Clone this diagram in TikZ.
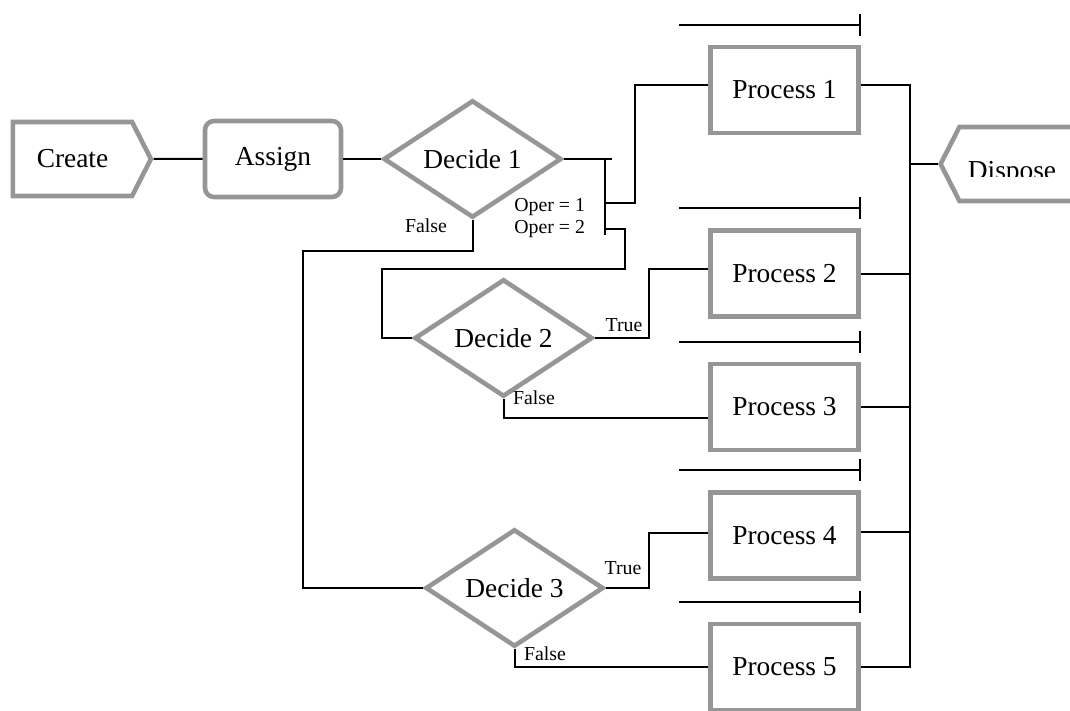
\documentclass[tikz,border=0pt]{standalone}
\usepackage{fontspec}
\setmainfont{Liberation Serif}
\usepackage{tikz}
\usetikzlibrary{shapes,arrows.meta}
\usetikzlibrary{shapes.geometric,shapes.symbols}
\usetikzlibrary{positioning,calc}
\definecolor{modgray}{RGB}{150,150,150}
\tikzstyle{decision} = [diamond, draw=modgray, line width=2.3pt,
minimum width=89pt, minimum height=53pt, inner sep=0pt, font=\fontsize{13.7}{16}\selectfont]
\tikzstyle{block} = [rectangle, draw=modgray, line width=2.3pt,
minimum width=74pt, minimum height=43pt, font=\fontsize{13.7}{16}\selectfont]
\tikzstyle{assignbox} = [block, rounded corners=4.5pt, minimum width=68pt, minimum height=38pt]
\tikzstyle{terminal} = [signal, draw=modgray, line width=2.3pt, signal pointer angle=126,
minimum height=37pt, font=\fontsize{13.7}{16}\selectfont]
\tikzstyle{line} = [draw, line width=1pt]
\tikzstyle{queue} = [draw, line width=1pt, -{Bar[width=11pt]}]
\tikzstyle{cond} = [font=\fontsize{9.9}{11}\selectfont, inner sep=0pt]

\begin{document}
\begin{tikzpicture}[x=0.5pt, y=-0.5pt]
\useasboundingbox (0,0) rectangle (1070,711);
\clip (0,0) rectangle (1070,711);
% Place nodes
\node [terminal, signal to=east, minimum width=69pt] (create) at (72.5,159) {Create};
\node [assignbox] (assign) at (273,159) {Assign};
\node [decision] (d1) at (472.5,159) {Decide 1};
\node [decision] (d2) at (503.5,338) {Decide 2};
\node [decision] (d3) at (514.5,588) {Decide 3};
\node [block] (p1) at (784.5,90) {Process 1};
\node [block] (p2) at (784.5,273.5) {Process 2};
\node [block] (p3) at (784.5,407) {Process 3};
\node [block] (p4) at (784.5,535.5) {Process 4};
\node [block] (p5) at (784.5,667) {Process 5};
\node [terminal, signal to=west, minimum width=90pt] (dispose) at (1040,164) {};
\begin{scope}
\clip (dispose.north west) rectangle (1070,177);
\node [anchor=base, font=\fontsize{13.7}{16}\selectfont] (disposetext) at (1012,180) {Dispose};
\end{scope}

% branch labels
\node [cond] (f1) at (426,226) {False};
\node [cond, anchor=west] (o1) at (514,207) {Oper = 1};
\node [cond, anchor=west] (o2) at (514,229) {Oper = 2};
\node [cond] (t2) at (624,325) {True};
\node [cond] (f2) at (534,398) {False};
\node [cond] (t3) at (623,568) {True};
\node [cond] (f3) at (545,654) {False};

\coordinate (fork) at ($(d1.east)+(41,0)$);
\coordinate (merge) at ($(p1.east)+(49,74)$);

% Draw edges
\path [line] (create) -- (assign);
\path [line] (assign) -- (d1);
\path [line] (d1.east) -- ++(48,0);
\path [line] (fork) -- ++(0,76);
\path [line] ($(fork)+(0,44)$) -- ++(30,0) |- ([yshift=2.5pt]p1.west);
\path [line] ($(fork)+(0,70)$) -- ++(20,0) -- ++(0,40) -| ($(d2.west)+(-30,0)$) -- (d2.west);
\path [line] (d1.south) -- ++(0,31) -| ($(d3.west)+(-120,0)$) -- (d3.west);
\path [line] (d2.east) -- ++(54,0) |- ([yshift=2.25pt]p2.west);
\path [line] (d2.south) |- ([yshift=-5.5pt]p3.west);
\path [line] (d3.east) -- ++(43,0) |- ([yshift=1.25pt]p4.west);
\path [line] (d3.south) |- (p5.west);
\path [line] ([yshift=2.5pt]p1.east) -| (merge);
\path [line] (p5.east) -| (merge);
\path [line] (p2.east) -- (p2.east -| merge);
\path [line] (p3.east) -- (p3.east -| merge);
\path [line] ([yshift=1.75pt]p4.east) -- ([yshift=1.75pt]p4.east -| merge);
\path [line] (merge) -- (dispose.west);

% queues above the processes
\path [queue] ($(p1.north west)+(-29,-20)$) -- ($(p1.north east)+(0,-20)$);
\path [queue] ($(p2.north west)+(-29,-20)$) -- ($(p2.north east)+(0,-20)$);
\path [queue] ($(p3.north west)+(-29,-20)$) -- ($(p3.north east)+(0,-20)$);
\path [queue] ($(p4.north west)+(-29,-20)$) -- ($(p4.north east)+(0,-20)$);
\path [queue] ($(p5.north west)+(-29,-20)$) -- ($(p5.north east)+(0,-20)$);
\end{tikzpicture}
\end{document}
